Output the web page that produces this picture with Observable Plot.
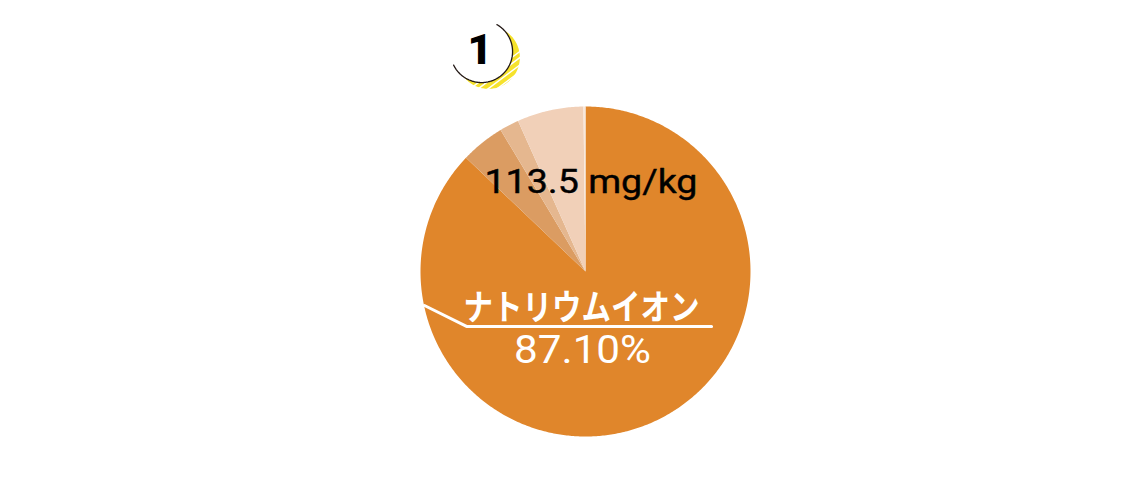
<!DOCTYPE html>
<html><head><meta charset="utf-8">
<style>html,body{margin:0;padding:0;background:#fff}svg{display:block}</style>
<script src="https://cdn.jsdelivr.net/npm/d3@7"></script>
<script src="https://cdn.jsdelivr.net/npm/@observablehq/plot@0.6"></script>
</head><body><div id="chart"></div>
<script>
const sliceNames = ["ナトリウムイオン", "b", "c", "d", "e"];
const sliceShares = [87.1, 4.3, 1.9, 6.5, 0.2];
const sliceColors = ["#E0862B", "#DB9C62", "#E5B78F", "#F1D0B8", "#F8E8DC"];
const totalLabel = "113.5 mg/kg";
const nameLabel = "ナトリウムイオン";
const percentLabel = "87.10%";
const badgeLabel = "1";

const W = 1148, H = 487, R = 165, CX = 585, CY = 271;
const TAU = Math.PI * 2;

// Slices in chart units (pie radius = 1), clockwise from 12 o'clock.
const total = d3.sum(sliceShares);
let cum = 0;
const slicePoints = sliceShares.flatMap((s, i) => {
  const a0 = cum / total * TAU; cum += s; const a1 = cum / total * TAU;
  const n = Math.max(2, Math.ceil((a1 - a0) / 0.01));
  const arc = d3.range(n + 1).map(k => {
    const a = a0 + (a1 - a0) * k / n;
    return {name: sliceNames[i], x: Math.sin(a), y: Math.cos(a)};
  });
  return [{name: sliceNames[i], x: 0, y: 0}, ...arc];
});

const circle = (cx, cy, r, from = 0, to = TAU) =>
  d3.range(181).map(k => {
    const a = from + (to - from) * k / 180;
    return {x: cx + r * Math.sin(a), y: cy + r * Math.cos(a)};
  });

const stripes = [-0.697, -0.648, -0.588, -0.533, -0.475].flatMap((c, i) => [
  {s: i, x: c - 0.1, y: 1.109 - 0.075}, {s: i, x: c + 0.4, y: 1.109 + 0.3}
]);

const plot = Plot.plot({
  width: W, height: H, margin: 0,
  x: {domain: [-CX / R, (W - CX) / R], axis: null},
  y: {domain: [(CY - H) / R, CY / R], axis: null},
  color: {domain: sliceNames, range: sliceColors},
  style: {background: "#fff"},
  marks: [
    Plot.line(circle(-0.588, 1.297, 0.19), {x: "x", y: "y", fill: "#F6E22B", stroke: "none"}),
    Plot.line(stripes, {x: "x", y: "y", z: "s", stroke: "#fff", strokeWidth: 1.5}),
    Plot.line(circle(-0.630, 1.333, 0.188), {x: "x", y: "y", fill: "#fff", stroke: "none"}),
    Plot.line(circle(-0.630, 1.333, 0.188, 0.52, 4.26), {x: "x", y: "y", stroke: "#231815", strokeWidth: 1.3}),
    Plot.text([badgeLabel], {x: () => -0.640, y: () => 1.339, text: d => d, fontSize: 43, fontWeight: 900, fontFamily: "Roboto", fill: "#000"}),
    Plot.line(slicePoints, {x: "x", y: "y", z: "name", fill: "name", stroke: "none"}),
    Plot.line([{x: -0.976, y: -0.206}, {x: -0.721, y: -0.333}, {x: 0.764, y: -0.333}], {x: "x", y: "y", stroke: "#fff", strokeWidth: 3}),
    Plot.text([totalLabel], {x: () => 0.033, y: () => 0.539, text: d => d, fontSize: 33, fontWeight: 400, fontFamily: "Roboto", stroke: "#000", strokeWidth: 0.4, fill: "#000"}),
    Plot.text([nameLabel], {x: () => -0.024, y: () => -0.224, text: d => d, fontSize: 35, fontWeight: 700, fontFamily: "Noto Sans CJK JP", fill: "#fff"}),
    Plot.text([percentLabel], {x: () => -0.018, y: () => -0.479, text: d => d, fontSize: 39, fontWeight: 400, fontFamily: "Roboto", fill: "#fff"})
  ]
});
// Stretch the labels to the widths they have in the reference.
const labelWidths = new Map([[totalLabel, 213], [nameLabel, 236], [percentLabel, 137]]);
d3.select(plot).selectAll("text").each(function() {
  const w = labelWidths.get(this.textContent);
  if (w) { this.setAttribute("textLength", w); this.setAttribute("lengthAdjust", "spacingAndGlyphs"); }
});
document.getElementById("chart").append(plot);
</script></body></html>
